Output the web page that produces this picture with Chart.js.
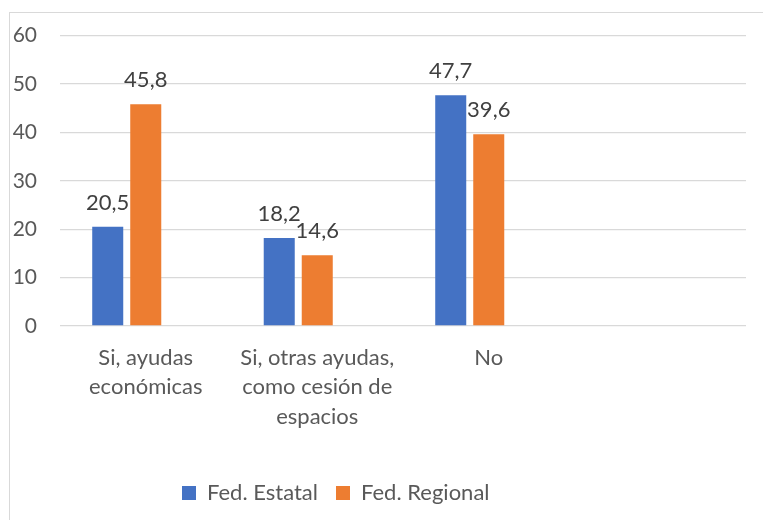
<!DOCTYPE html>
<html>
<head>
<meta charset="utf-8">
<script src="https://cdn.jsdelivr.net/npm/chart.js@4/dist/chart.umd.min.js"></script>
<style>
  html, body { margin: 0; padding: 0; background: #ffffff; }
  #wrap { position: relative; width: 763px; height: 520px; overflow: hidden; }
  #frame { position: absolute; left: 9px; top: 12px; width: 900px; height: 700px;
           border-left: 1px solid #d9d9d9; border-top: 1px solid #d9d9d9; }
  canvas { position: absolute; left: 0; top: 0; }
</style>
</head>
<body>
<div id="wrap">
  <div id="frame"></div>
  <canvas id="c" width="763" height="520"></canvas>
</div>
<script>
const categories = [["Si, ayudas", "económicas"], ["Si, otras ayudas,", "como cesión de", "espacios"], "No", ""];
const seriesNames = ["Fed. Estatal", "Fed. Regional"];
const fedEstatal = [20.5, 18.2, 47.7, null];
const fedRegional = [45.8, 14.6, 39.6, null];
const emptySeries = [null, null, null, null];
const yTicks = [0, 10, 20, 30, 40, 50, 60];

const FONT = "Lato, 'Open Sans', sans-serif";
const LEGEND_PAD = 18;
const LEGEND_FONT = 22;

const dataLabels = {
  id: 'dataLabels',
  afterDatasetsDraw(chart) {
    const ctx = chart.ctx;
    ctx.save();
    ctx.font = "22px " + FONT;
    ctx.fillStyle = "#404040";
    ctx.textAlign = "center";
    ctx.textBaseline = "alphabetic";
    [0, 1].forEach(di => {
      const meta = chart.getDatasetMeta(di);
      const ds = chart.data.datasets[di];
      meta.data.forEach((el, i) => {
        const v = ds.data[i];
        if (v === null || v === undefined) return;
        ctx.fillText(v.toFixed(1).replace('.', ','), el.x, el.y - 17);
      });
    });
    ctx.restore();
  }
};

const placeLegend = {
  id: 'placeLegend',
  afterLayout(chart) {
    const lg = chart.legend;
    if (!lg) return;
    const h = lg.height;
    lg.left = 182 - LEGEND_PAD;
    lg.right = 763;
    lg.width = lg.right - lg.left;
    lg.top = 493 - LEGEND_PAD - LEGEND_FONT / 2;
    lg.bottom = lg.top + h;
  }
};

new Chart(document.getElementById('c'), {
  type: 'bar',
  data: {
    labels: categories,
    datasets: [
      { label: seriesNames[0], data: fedEstatal, backgroundColor: '#4472C4' },
      { label: seriesNames[1], data: fedRegional, backgroundColor: '#ED7D31' },
      { label: '', data: emptySeries, backgroundColor: 'rgba(0,0,0,0)' }
    ]
  },
  options: {
    responsive: false,
    animation: false,
    devicePixelRatio: 1,
    layout: { padding: { left: 0, right: 17, top: 35, bottom: 0 } },
    datasets: { bar: { categoryPercentage: 0.665, barPercentage: 0.816 } },
    scales: {
      x: {
        grid: { display: false, drawTicks: false },
        border: { display: false },
        ticks: {
          color: '#595959',
          font: { family: FONT, size: 22, lineHeight: 1.34 },
          maxRotation: 0, minRotation: 0, autoSkip: false, padding: 17
        },
        afterFit(scale) {
          const lg = scale.chart.legend;
          const lh = lg && lg.height ? lg.height : (LEGEND_FONT + LEGEND_PAD + 10);
          scale.height = 194 - lh;
        }
      },
      y: {
        min: 0, max: 60,
        afterBuildTicks(scale) { scale.ticks = yTicks.map(v => ({ value: v })); },
        grid: { color: '#d9d9d9', lineWidth: 1.3, drawTicks: false },
        border: { display: false },
        ticks: {
          color: '#595959',
          font: { family: FONT, size: 21 },
          padding: 23
        },
        afterFit(scale) { scale.width = 60; }
      }
    },
    plugins: {
      legend: {
        position: 'bottom',
        align: 'start',
        labels: {
          color: '#595959',
          font: { family: FONT, size: LEGEND_FONT },
          boxWidth: 14, boxHeight: 14,
          padding: LEGEND_PAD,
          filter: item => item.text !== ''
        }
      },
      tooltip: { enabled: false }
    }
  },
  plugins: [placeLegend, dataLabels]
});
</script>
</body>
</html>
